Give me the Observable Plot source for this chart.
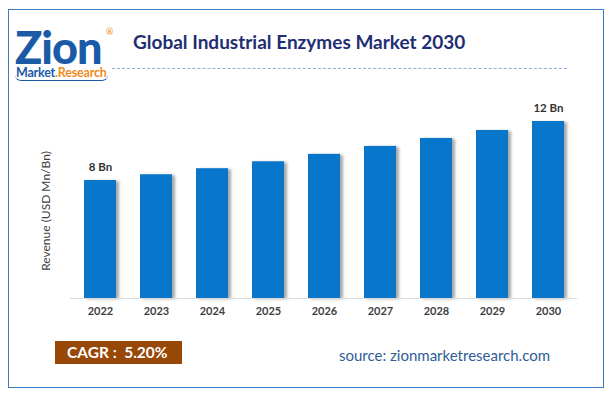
<!DOCTYPE html>
<html>
<head>
<meta charset="utf-8">
<script src="https://cdn.jsdelivr.net/npm/d3@7"></script>
<script src="https://cdn.jsdelivr.net/npm/@observablehq/plot@0.6"></script>
<style>
  html, body { margin: 0; padding: 0; background: #fff; }
  #wrap { position: relative; width: 612px; height: 394px; overflow: hidden; font-family: Lato, "Noto Sans", sans-serif; }
  #border { position: absolute; left: 8px; top: 9px; width: 594px; height: 377px; border: 1.5px solid #3b7dc4; }
  #logoBig { position: absolute; left: 15px; top: 27px; height: 40px; font-weight: 900; font-size: 45px; color: #1b5aa6; letter-spacing: -1px; line-height: 40px; }
  #logoReg { position: absolute; left: 106px; top: 27px; height: 10px; font-size: 9px; line-height: 10px; color: #f08a1c; }
  #logoSmall { position: absolute; left: 15px; top: 67px; height: 13px; font-weight: 700; font-size: 12.5px; line-height: 12px; letter-spacing: -0.2px; border-bottom: 1px solid #1b5aa6; border-radius: 0 0 6px 6px; padding: 0 1px; white-space: nowrap; }
  #title { position: absolute; left: 133px; top: 30px; font-weight: 700; font-size: 19px; color: #1f2e72; white-space: nowrap; }
  #dash { position: absolute; left: 112px; top: 68px; width: 455px; border-top: 1.5px dashed #8eaee0; }
  #ylabel { position: absolute; left: 45px; top: 211px; transform: translate(-50%, -50%) rotate(-90deg); font-size: 12px; color: #404040; white-space: nowrap; }
  #chart { position: absolute; left: 0; top: 94px; }
  #cagr { position: absolute; left: 55px; top: 341px; width: 127px; height: 23px; background: #974807; color: #fff; font-weight: 700; font-size: 15.5px; line-height: 23px; box-sizing: border-box; padding-left: 12px; white-space: nowrap; }
  #source { position: absolute; left: 339px; top: 346px; font-size: 15px; color: #2e5d96; white-space: nowrap; }
</style>
</head>
<body>
<div id="wrap">
  <div id="border"></div>
  <div id="logoBig">Zion</div>
  <div id="logoReg">®</div>
  <div id="logoSmall"><span style="color:#1b5aa6">Market</span><span style="color:#f08a1c">.Research</span></div>
  <div id="title">Global Industrial Enzymes Market 2030</div>
  <div id="dash"></div>
  <div id="ylabel">Revenue (USD Mn/Bn)</div>
  <div id="chart"></div>
  <div id="cagr">CAGR :&nbsp; 5.20%</div>
  <div id="source">source: zionmarketresearch.com</div>
</div>
<script>
const years = ["2022", "2023", "2024", "2025", "2026", "2027", "2028", "2029", "2030"];
const revenue = [8.0, 8.39, 8.80, 9.27, 9.77, 10.31, 10.85, 11.39, 12.0];
const barLabels = ["8 Bn", "", "", "", "", "", "", "", "12 Bn"];

const data = years.map((y, i) => ({year: y, value: revenue[i], label: barLabels[i]}));

const chart = Plot.plot({
  width: 612,
  height: 232,
  marginLeft: 70,
  marginRight: 35,
  marginTop: 27,
  marginBottom: 28,
  style: {fontFamily: "Lato, 'Noto Sans', sans-serif", background: "transparent"},
  x: {domain: years, paddingInner: 0.43, paddingOuter: 0.22, label: null, tickSize: 0, tickPadding: 9},
  y: {domain: [0, 12], axis: null},
  marks: [
    Plot.barY(data, {x: "year", y: "value", fill: "#8a8a8a", fillOpacity: 0.75, dx: 3, dy: 1}),
    Plot.barY(data, {x: "year", y: "value", fill: "#0877cb"}),
    Plot.ruleY([0], {stroke: "#d9d9d9", strokeWidth: 1.2}),
    Plot.text(data, {x: "year", y: "value", text: "label", dy: -13, fill: "#333333", fontWeight: "bold", fontSize: 11.5}),
    Plot.axisX({tickSize: 0, tickPadding: 9, fontWeight: "bold", fontSize: 11, color: "#404040", label: null})
  ]
});
document.getElementById("chart").appendChild(chart);

// soft shadow filter on the first (shadow) bar group
const svg = d3.select(chart);
const defs = svg.insert("defs", ":first-child");
defs.append("filter").attr("id", "shadowBlur").attr("x", "-50%").attr("width", "200%")
  .append("feGaussianBlur").attr("stdDeviation", 1.6);
const barGroups = chart.querySelectorAll('g[aria-label="bar"]');
if (barGroups.length) d3.select(barGroups[0]).attr("filter", "url(#shadowBlur)");
</script>
</body>
</html>
